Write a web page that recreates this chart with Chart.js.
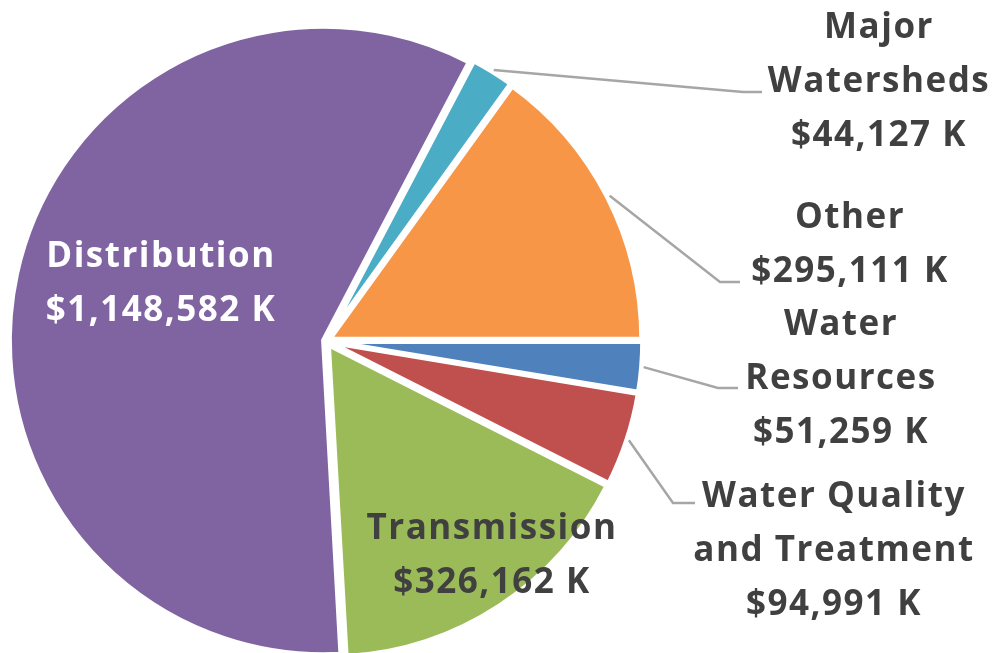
<!DOCTYPE html>
<html>
<head>
<meta charset="utf-8">
<script src="https://cdn.jsdelivr.net/npm/chart.js@4"></script>
<style>
  html, body { margin: 0; padding: 0; background: #fff; overflow: hidden; }
  #frame { width: 999px; height: 653px; overflow: hidden; }
  /* canvas a bit taller than the view so the pie can touch the bottom edge */
  #wrap { width: 999px; height: 680px; position: relative; }
</style>
</head>
<body>
<div id="frame"><div id="wrap"><canvas id="chart"></canvas></div></div>
<script>
// slices clockwise from 3 o'clock
const categories = ['Water Resources', 'Water Quality and Treatment', 'Transmission', 'Distribution', 'Major Watersheds', 'Other'];
const values = [51259, 94991, 326162, 1148582, 44127, 295111];
const labelLines = [['Water', 'Resources'], ['Water Quality', 'and Treatment'], ['Transmission'], ['Distribution'], ['Major', 'Watersheds'], ['Other']];
const colors = ['#4F81BD', '#C0504D', '#9BBB59', '#8064A2', '#4BACC6', '#F79646'];

// label placement (style only): centre x, first baseline y, leader elbow
const labelStyle = [
  { x: 841, y: 335, color: '#404040', elbow: [718, 388], end: 738 },
  { x: 834, y: 507, color: '#404040', elbow: [673, 503], end: 695 },
  { x: 492, y: 539, color: '#404040' },
  { x: 161, y: 267, color: '#ffffff' },
  { x: 879, y: 38, color: '#404040', elbow: [743, 92], end: 762 },
  { x: 850, y: 228, color: '#404040', elbow: [720, 282], end: 740 },
];
// per-slice explode so every slice moves ~5px
const offsets = [10.9, 11.8, 17.6, 10, 10.75, 15];

const fmt = (v) => '$' + v.toLocaleString('en-US') + ' K';

const labelPlugin = {
  id: 'pieLabels',
  afterDraw(chart) {
    const { ctx } = chart;
    const meta = chart.getDatasetMeta(0);
    ctx.save();
    ctx.font = 'bold 35px "Open Sans"';
    ctx.letterSpacing = '1.5px';
    ctx.textAlign = 'center';
    ctx.textBaseline = 'alphabetic';
    const lineH = 54;
    meta.data.forEach((arc, i) => {
      const st = labelStyle[i];
      const lines = labelLines[i].concat([fmt(values[i])]);
      if (st.elbow) {
        const mid = (arc.startAngle + arc.endAngle) / 2;
        const r = arc.outerRadius + 7;
        ctx.beginPath();
        ctx.strokeStyle = '#A6A6A6';
        ctx.lineWidth = 2.5;
        ctx.moveTo(arc.x + Math.cos(mid) * r, arc.y + Math.sin(mid) * r);
        ctx.lineTo(st.elbow[0], st.elbow[1]);
        ctx.lineTo(st.end, st.elbow[1]);
        ctx.stroke();
      }
      ctx.fillStyle = st.color;
      lines.forEach((t, k) => ctx.fillText(t, st.x, st.y + k * lineH));
    });
    ctx.restore();
  },
};

new Chart(document.getElementById('chart'), {
  type: 'pie',
  data: {
    labels: categories,
    datasets: [{
      data: values,
      backgroundColor: colors,
      borderColor: '#ffffff',
      borderWidth: 5,
      hoverBorderWidth: 5,
      offset: offsets,
      hoverOffset: 0,
    }],
  },
  options: {
    responsive: true,
    maintainAspectRatio: false,
    animation: false,
    rotation: 90,
    layout: { padding: { left: 3, top: 18, right: 350, bottom: 16 } },
    plugins: {
      legend: { display: false },
      tooltip: { enabled: false },
    },
    events: [],
  },
  plugins: [labelPlugin],
});
</script>
</body>
</html>
